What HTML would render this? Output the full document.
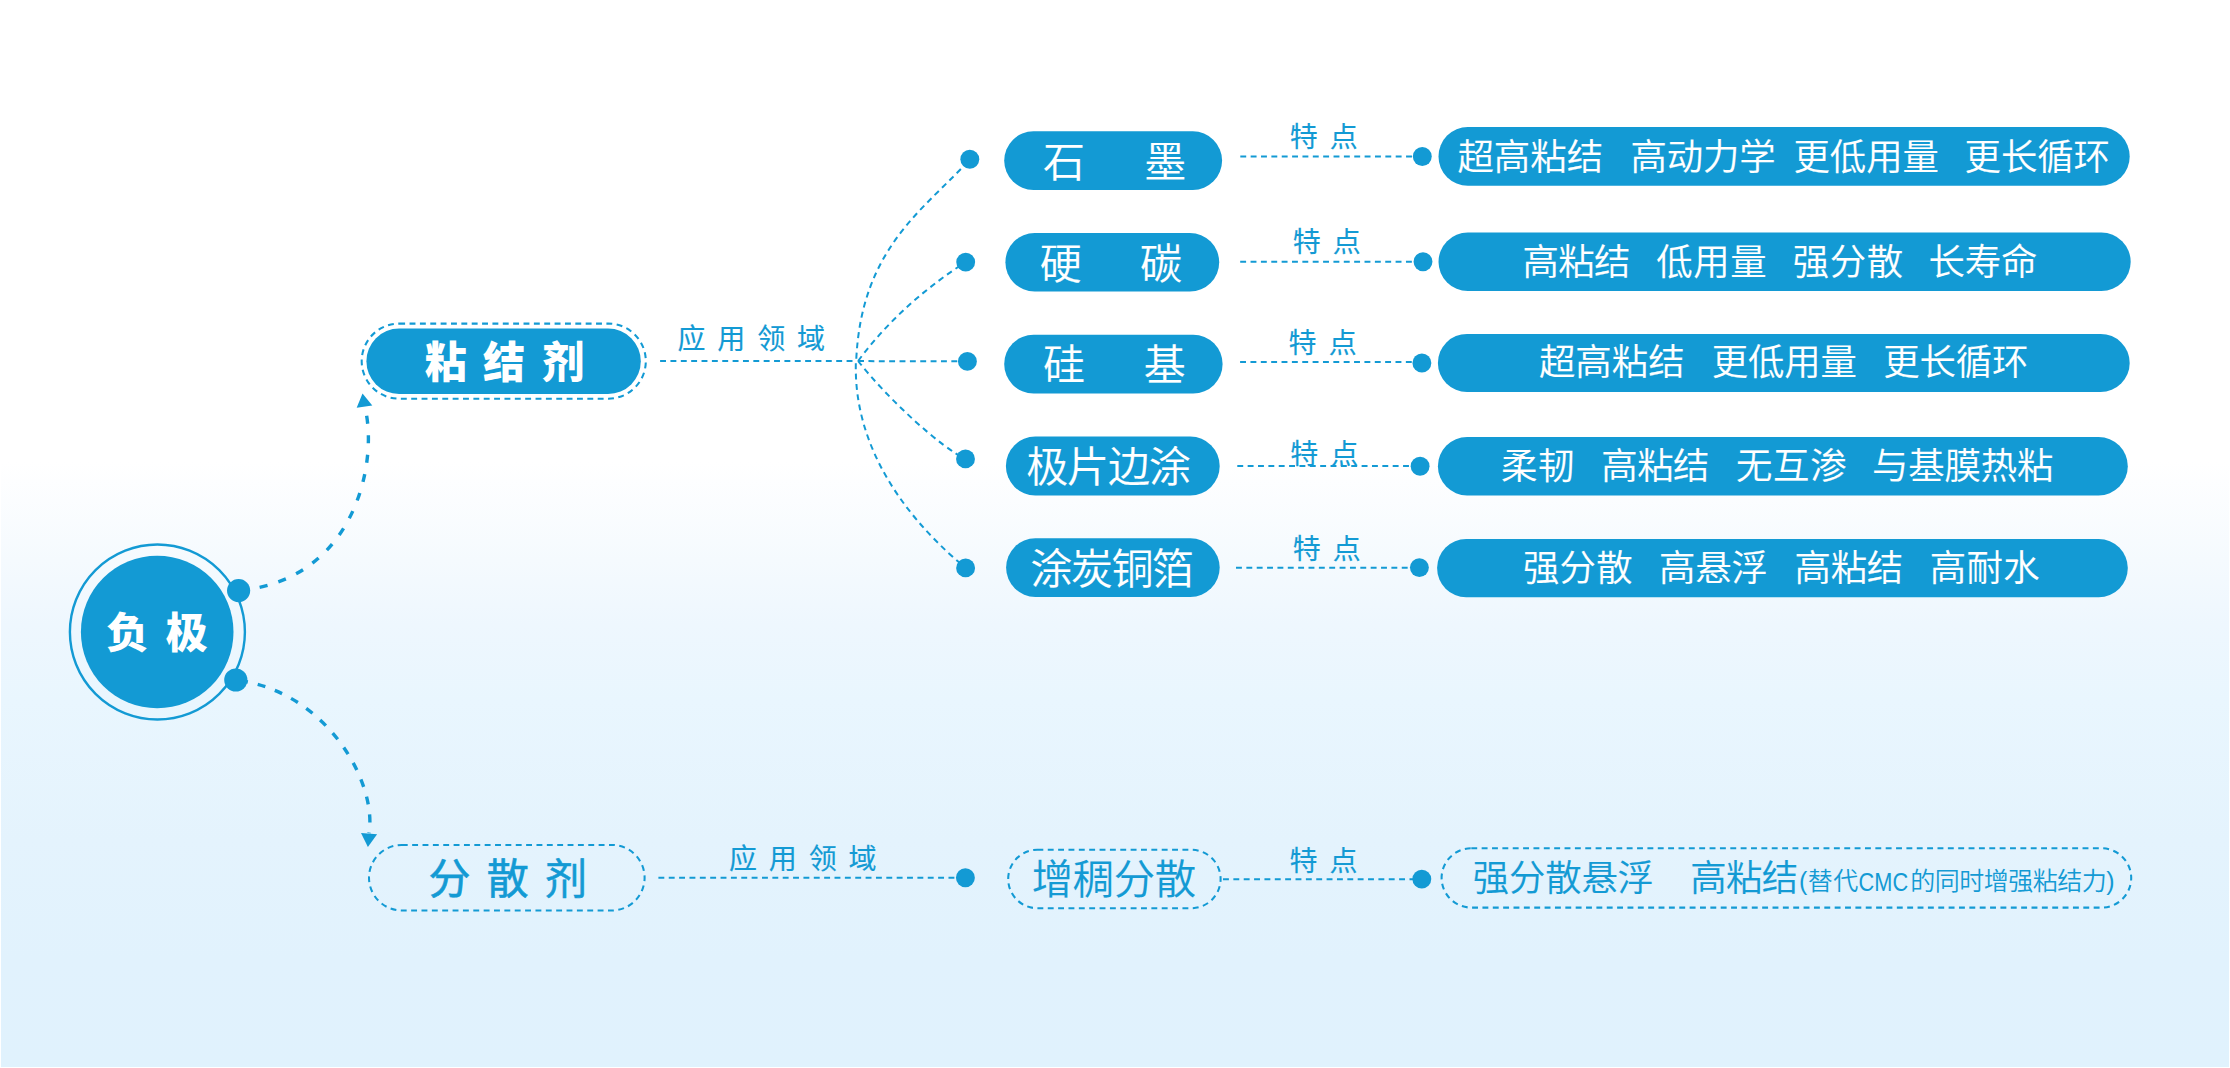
<!DOCTYPE html>
<html lang="zh-CN">
<head>
<meta charset="utf-8">
<title>负极 粘结剂 分散剂</title>
<style>
html,body{margin:0;padding:0;background:#fff;}
body{width:2230px;height:1068px;overflow:hidden;position:relative;}
#bg{position:absolute;left:1px;top:0;width:2228px;height:1067px;
  background:linear-gradient(to bottom,#ffffff 0px,#ffffff 462px,#f5fafe 560px,#eef7fe 625px,#e9f6fe 700px,#e4f3fd 840px,#e1f2fd 960px,#e0f2fd 1067px);}
svg{position:absolute;left:0;top:0;font-family:"Liberation Sans","Noto Sans CJK SC",sans-serif;}
.dl{fill:none;stroke:#139AD4;stroke-width:2;stroke-dasharray:5.9 4.46;}
.tk{fill:none;stroke:#139AD4;stroke-width:3.4;}
</style>
</head>
<body>
<div id="bg"></div>
<svg width="2230" height="1068" viewBox="0 0 2230 1068">
<circle cx="157.4" cy="632" r="87.5" fill="none" stroke="#139AD4" stroke-width="2.4"/>
<circle cx="157.2" cy="632" r="76.3" fill="#139AD4"/>
<text x="106.40 165.70" y="647.6" font-size="42" font-weight="900" fill="#fff">负极</text>
<path d="M238.7 590.6 C 357 580.1 378.6 459 364.7 406.7" class="tk" stroke-dasharray="8 11.5" stroke-dashoffset="17.85"/>
<path d="M235.7 680 C 327 690.9 377.4 783 369 833.3" class="tk" stroke-dasharray="8 10.14" stroke-dashoffset="13.9"/>
<polygon points="362.5,393.4 356.7,407.8 372.3,405.6" fill="#139AD4"/>
<polygon points="361,833 377.1,834.3 367.9,846.9" fill="#139AD4"/>
<circle cx="238.6" cy="590.6" r="11.6" fill="#139AD4"/>
<circle cx="235.8" cy="680.0" r="11.6" fill="#139AD4"/>
<rect x="366.4" y="328.6" width="274.4" height="65.4" rx="32.7" ry="32.7" fill="#139AD4"/>
<rect x="361.7" y="323.6" width="284.1" height="75.1" rx="37.5" ry="37.5" fill="none" stroke="#139AD4" stroke-width="2.05" stroke-dasharray="5.9 4.46"/>
<text transform="scale(0.985 1)" x="431.34 490.33 550.63" y="377.9" font-size="42.7" font-weight="900" fill="#fff">粘结剂</text>
<path d="M660.1 361.1L853.5 361.1" class="dl"/>
<text x="677.5" y="349.4" font-size="28" font-weight="400" fill="#139AD4" text-anchor="start" textLength="147.6" lengthAdjust="spacing" stroke="#139AD4" stroke-width="0.15">应用领域</text>
<path d="M856.2 361 C 860.9 246.6 926.5 208 969.8 159.3" class="dl" stroke-dashoffset="8.13"/>
<path d="M858.1 361 C 891 316.5 932.2 283.3 965.7 262.1" class="dl"/>
<path d="M858.1 361.1L958.0 361.3" class="dl"/>
<path d="M858.1 361 C 887.8 399 941.1 447.6 965.5 458.9" class="dl"/>
<path d="M855.9 361 C 852.6 456.3 917.4 528 965.6 567.9" class="dl" stroke-dashoffset="8.13"/>
<circle cx="969.8" cy="159.3" r="9.45" fill="#139AD4"/>
<rect x="1004.2" y="131.3" width="217.9" height="58.6" rx="29.3" ry="29.3" fill="#139AD4"/>
<text x="1043.1 1144.3" y="176.5" font-size="42" font-weight="350" fill="#fff" stroke="#fff" stroke-width="0.15">石墨</text>
<path d="M1240.3 156.5L1414.3 156.5" class="dl"/>
<circle cx="1422.3" cy="156.5" r="9.45" fill="#139AD4"/>
<text x="1289.7" y="146.8" font-size="28" font-weight="400" fill="#139AD4" text-anchor="start" textLength="68.1" lengthAdjust="spacing" stroke="#139AD4" stroke-width="0.15">特点</text>
<rect x="1438.5" y="127.0" width="691.2" height="58.8" rx="29.4" ry="29.4" fill="#139AD4"/>
<circle cx="965.7" cy="262.1" r="9.45" fill="#139AD4"/>
<rect x="1005.4" y="233.0" width="213.8" height="58.6" rx="29.3" ry="29.3" fill="#139AD4"/>
<text x="1039.7 1140.0" y="278.5" font-size="42" font-weight="350" fill="#fff" stroke="#fff" stroke-width="0.15">硬碳</text>
<path d="M1240.2 261.8L1415.0 261.8" class="dl"/>
<circle cx="1423.0" cy="261.7" r="9.45" fill="#139AD4"/>
<text x="1292.7" y="252.1" font-size="28" font-weight="400" fill="#139AD4" text-anchor="start" textLength="68.1" lengthAdjust="spacing" stroke="#139AD4" stroke-width="0.15">特点</text>
<rect x="1438.5" y="232.6" width="692.2" height="58.5" rx="29.3" ry="29.3" fill="#139AD4"/>
<circle cx="967.4" cy="361.4" r="9.45" fill="#139AD4"/>
<rect x="1004.2" y="334.7" width="218.4" height="58.8" rx="29.4" ry="29.4" fill="#139AD4"/>
<text x="1043.1 1143.8" y="380.0" font-size="42" font-weight="350" fill="#fff" stroke="#fff" stroke-width="0.15">硅基</text>
<path d="M1240.1 362.1L1413.9 362.1" class="dl"/>
<circle cx="1421.9" cy="363.0" r="9.45" fill="#139AD4"/>
<text x="1288.6" y="352.9" font-size="28" font-weight="400" fill="#139AD4" text-anchor="start" textLength="68.1" lengthAdjust="spacing" stroke="#139AD4" stroke-width="0.15">特点</text>
<rect x="1437.9" y="333.9" width="691.8" height="58.1" rx="29.1" ry="29.1" fill="#139AD4"/>
<circle cx="965.5" cy="458.9" r="9.45" fill="#139AD4"/>
<rect x="1005.9" y="436.6" width="213.8" height="58.9" rx="29.4" ry="29.4" fill="#139AD4"/>
<text x="1026.2" y="481.5" font-size="42" font-weight="350" fill="#fff" text-anchor="start" textLength="164.7" lengthAdjust="spacing" stroke="#fff" stroke-width="0.15">极片边涂</text>
<path d="M1237.3 466.1L1412.1 466.1" class="dl"/>
<circle cx="1420.1" cy="466.2" r="9.45" fill="#139AD4"/>
<text x="1290.3" y="463.8" font-size="28" font-weight="400" fill="#139AD4" text-anchor="start" textLength="68.1" lengthAdjust="spacing" stroke="#139AD4" stroke-width="0.15">特点</text>
<rect x="1437.9" y="437.0" width="689.9" height="58.4" rx="29.2" ry="29.2" fill="#139AD4"/>
<circle cx="965.6" cy="567.9" r="9.45" fill="#139AD4"/>
<rect x="1006.1" y="538.3" width="213.6" height="58.6" rx="29.3" ry="29.3" fill="#139AD4"/>
<text x="1030.5" y="583.5" font-size="42" font-weight="350" fill="#fff" text-anchor="start" textLength="163.5" lengthAdjust="spacing" stroke="#fff" stroke-width="0.15">涂炭铜箔</text>
<path d="M1236.0 567.7L1411.4 567.7" class="dl"/>
<circle cx="1419.4" cy="567.6" r="9.45" fill="#139AD4"/>
<text x="1292.7" y="558.6" font-size="28" font-weight="400" fill="#139AD4" text-anchor="start" textLength="68.1" lengthAdjust="spacing" stroke="#139AD4" stroke-width="0.15">特点</text>
<rect x="1437.1" y="539.0" width="690.7" height="58.2" rx="29.1" ry="29.1" fill="#139AD4"/>
<text x="1457.4" y="169.9" font-size="36.4" font-weight="350" fill="#fff" text-anchor="start" textLength="145.8" lengthAdjust="spacing" stroke="#fff" stroke-width="0.15">超高粘结</text>
<text x="1630.4" y="169.9" font-size="36.4" font-weight="350" fill="#fff" text-anchor="start" textLength="145.3" lengthAdjust="spacing" stroke="#fff" stroke-width="0.15">高动力学</text>
<text x="1793.4" y="169.9" font-size="36.4" font-weight="350" fill="#fff" text-anchor="start" textLength="145.5" lengthAdjust="spacing" stroke="#fff" stroke-width="0.15">更低用量</text>
<text x="1964.6" y="169.9" font-size="36.4" font-weight="350" fill="#fff" text-anchor="start" textLength="145.4" lengthAdjust="spacing" stroke="#fff" stroke-width="0.15">更长循环</text>
<text x="1522.4" y="274.9" font-size="36.4" font-weight="350" fill="#fff" text-anchor="start" textLength="108.1" lengthAdjust="spacing" stroke="#fff" stroke-width="0.15">高粘结</text>
<text x="1656.3" y="274.9" font-size="36.4" font-weight="350" fill="#fff" text-anchor="start" textLength="110.4" lengthAdjust="spacing" stroke="#fff" stroke-width="0.15">低用量</text>
<text x="1792.8" y="274.9" font-size="36.4" font-weight="350" fill="#fff" text-anchor="start" textLength="110.4" lengthAdjust="spacing" stroke="#fff" stroke-width="0.15">强分散</text>
<text x="1928.4" y="274.9" font-size="36.4" font-weight="350" fill="#fff" text-anchor="start" textLength="108.9" lengthAdjust="spacing" stroke="#fff" stroke-width="0.15">长寿命</text>
<text x="1538.9" y="375.4" font-size="36.4" font-weight="350" fill="#fff" text-anchor="start" textLength="145.8" lengthAdjust="spacing" stroke="#fff" stroke-width="0.15">超高粘结</text>
<text x="1711.7" y="375.4" font-size="36.4" font-weight="350" fill="#fff" text-anchor="start" textLength="145.2" lengthAdjust="spacing" stroke="#fff" stroke-width="0.15">更低用量</text>
<text x="1883.2" y="375.4" font-size="36.4" font-weight="350" fill="#fff" text-anchor="start" textLength="145.2" lengthAdjust="spacing" stroke="#fff" stroke-width="0.15">更长循环</text>
<text x="1501.0" y="478.9" font-size="36.4" font-weight="350" fill="#fff" text-anchor="start" textLength="73.5" lengthAdjust="spacing" stroke="#fff" stroke-width="0.15">柔韧</text>
<text x="1601.3" y="478.9" font-size="36.4" font-weight="350" fill="#fff" text-anchor="start" textLength="108.1" lengthAdjust="spacing" stroke="#fff" stroke-width="0.15">高粘结</text>
<text x="1735.9" y="478.9" font-size="36.4" font-weight="350" fill="#fff" text-anchor="start" textLength="110.8" lengthAdjust="spacing" stroke="#fff" stroke-width="0.15">无互渗</text>
<text x="1871.9" y="478.9" font-size="36.4" font-weight="350" fill="#fff" text-anchor="start" textLength="181.5" lengthAdjust="spacing" stroke="#fff" stroke-width="0.15">与基膜热粘</text>
<text x="1522.9" y="581.3" font-size="36.4" font-weight="350" fill="#fff" text-anchor="start" textLength="109.8" lengthAdjust="spacing" stroke="#fff" stroke-width="0.15">强分散</text>
<text x="1659.1" y="581.3" font-size="36.4" font-weight="350" fill="#fff" text-anchor="start" textLength="108.7" lengthAdjust="spacing" stroke="#fff" stroke-width="0.15">高悬浮</text>
<text x="1794.5" y="581.3" font-size="36.4" font-weight="350" fill="#fff" text-anchor="start" textLength="108.7" lengthAdjust="spacing" stroke="#fff" stroke-width="0.15">高粘结</text>
<text x="1929.7" y="581.3" font-size="36.4" font-weight="350" fill="#fff" text-anchor="start" textLength="109.9" lengthAdjust="spacing" stroke="#fff" stroke-width="0.15">高耐水</text>
<rect x="369.0" y="844.9" width="275.6" height="65.6" rx="32.8" ry="32.8" fill="none" stroke="#139AD4" stroke-width="2.05" stroke-dasharray="5.9 4.46"/>
<text x="428.5" y="894.0" font-size="42" font-weight="400" fill="#139AD4" text-anchor="start" textLength="158.5" lengthAdjust="spacing" stroke="#139AD4" stroke-width="0.6">分散剂</text>
<path d="M658.4 877.8L957.0 877.8" class="dl"/>
<text x="729.0" y="869.4" font-size="28" font-weight="400" fill="#139AD4" text-anchor="start" textLength="147.6" lengthAdjust="spacing" stroke="#139AD4" stroke-width="0.15">应用领域</text>
<circle cx="965.4" cy="877.8" r="9.45" fill="#139AD4"/>
<rect x="1008.2" y="849.8" width="212.4" height="58.4" rx="29.2" ry="29.2" fill="none" stroke="#139AD4" stroke-width="2.05" stroke-dasharray="5.9 4.46"/>
<text x="1031.8" y="893.7" font-size="41.4" font-weight="350" fill="#139AD4" text-anchor="start" textLength="164.3" lengthAdjust="spacing" stroke="#139AD4" stroke-width="0.15">增稠分散</text>
<path d="M1223.0 879.2L1413.0 879.2" class="dl"/>
<text x="1289.5" y="871.1" font-size="28" font-weight="400" fill="#139AD4" text-anchor="start" textLength="68.1" lengthAdjust="spacing" stroke="#139AD4" stroke-width="0.15">特点</text>
<circle cx="1421.8" cy="879.1" r="9.45" fill="#139AD4"/>
<rect x="1441.6" y="848.3" width="689.6" height="59.3" rx="29.7" ry="29.7" fill="none" stroke="#139AD4" stroke-width="2.05" stroke-dasharray="5.9 4.46"/>
<text x="1472.7" y="890.5" font-size="36.4" font-weight="350" fill="#139AD4" text-anchor="start" textLength="181.3" lengthAdjust="spacing" stroke="#139AD4" stroke-width="0.15">强分散悬浮</text>
<text x="1690.3" y="890.5" font-size="36.4" font-weight="350" fill="#139AD4" text-anchor="start" textLength="107.9" lengthAdjust="spacing" stroke="#139AD4" stroke-width="0.15">高粘结</text>
<text y="890.2" font-size="25" font-weight="350" fill="#139AD4"><tspan x="1799.1" textLength="59.2" lengthAdjust="spacing">(替代</tspan><tspan x="1858.6" y="890.5" font-size="26.5" font-weight="400" textLength="49.6" lengthAdjust="spacingAndGlyphs">CMC</tspan><tspan x="1910.2" y="890.2" textLength="204.4" lengthAdjust="spacing">的同时增强粘结力)</tspan></text>
</svg>
</body>
</html>
